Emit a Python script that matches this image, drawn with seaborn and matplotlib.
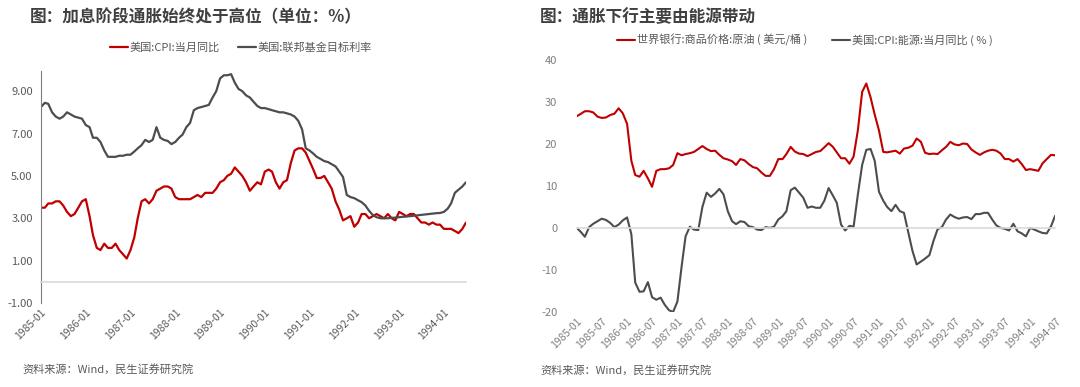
"""
通胀与利率、能源对比图
"""
import matplotlib
matplotlib.use('Agg')
import matplotlib.pyplot as plt
import matplotlib.dates as mdates
import seaborn as sns
import pandas as pd

sns.set_style("white")
plt.rcParams['font.family'] = ['Noto Sans CJK SC', 'DejaVu Sans']
plt.rcParams['axes.unicode_minus'] = False

# 月度日期 1985-01 ~ 1994-07
months = pd.date_range('1985-01-01', '1994-07-01', freq='MS')

# 美国:CPI:当月同比
cpi_yoy = [3.5, 3.5, 3.7, 3.7, 3.8, 3.8, 3.6, 3.3, 3.1, 3.2, 3.5, 3.8,
           3.9, 3.1, 2.2, 1.6, 1.5, 1.8, 1.6, 1.6, 1.8, 1.5, 1.3, 1.1,
           1.5, 2.1, 3.0, 3.8, 3.9, 3.7, 3.9, 4.3, 4.4, 4.5, 4.5, 4.4,
           4.0, 3.9, 3.9, 3.9, 3.9, 4.0, 4.1, 4.0, 4.2, 4.2, 4.2, 4.4,
           4.7, 4.8, 5.0, 5.1, 5.4, 5.2, 5.0, 4.7, 4.3, 4.5, 4.7, 4.6,
           5.2, 5.3, 5.2, 4.7, 4.4, 4.7, 4.8, 5.6, 6.2, 6.3, 6.3, 6.1,
           5.7, 5.3, 4.9, 4.9, 5.0, 4.7, 4.4, 3.8, 3.4, 2.9, 3.0, 3.1,
           2.6, 2.8, 3.2, 3.2, 3.0, 3.1, 3.2, 3.1, 3.0, 3.2, 3.0, 2.9,
           3.3, 3.2, 3.1, 3.2, 3.2, 3.0, 2.8, 2.8, 2.7, 2.8, 2.7, 2.7,
           2.5, 2.5, 2.5, 2.4, 2.3, 2.5, 2.8]

# 美国:联邦基金目标利率
fed_rate = [8.25, 8.45, 8.4, 8.0, 7.8, 7.7, 7.8, 8.0, 7.9, 7.8, 7.75, 7.7,
            7.4, 7.3, 6.8, 6.8, 6.6, 6.2, 5.9, 5.9, 5.9, 5.95, 5.95, 6.0,
            6.0, 6.15, 6.3, 6.45, 6.7, 6.6, 6.7, 7.3, 6.8, 6.7, 6.65, 6.5,
            6.6, 6.8, 6.95, 7.3, 7.5, 8.1, 8.2, 8.25, 8.3, 8.35, 8.7, 9.0,
            9.6, 9.75, 9.75, 9.8, 9.4, 9.1, 9.0, 8.8, 8.7, 8.5, 8.3, 8.2,
            8.2, 8.15, 8.1, 8.05, 8.0, 8.0, 7.95, 7.9, 7.8, 7.6, 7.2, 6.3,
            6.2, 6.05, 5.9, 5.8, 5.7, 5.65, 5.55, 5.45, 5.2, 4.95, 4.1, 4.0,
            3.95, 3.85, 3.76, 3.6, 3.35, 3.15, 3.05, 3.0, 3.0, 3.0, 3.02, 3.03,
            3.05, 3.07, 3.08, 3.1, 3.12, 3.14, 3.16, 3.18, 3.2, 3.22, 3.24, 3.25,
            3.3, 3.45, 3.7, 4.2, 4.35, 4.5, 4.7]

# 世界银行:商品价格:原油(美元/桶)
oil_price = [26.6, 27.2, 27.8, 27.8, 27.5, 26.5, 26.2, 26.3, 26.9, 27.2, 28.5, 27.3,
             24.8, 16.0, 12.6, 12.2, 13.6, 11.8, 9.8, 13.6, 14.0, 14.0, 14.2, 15.0,
             17.8, 17.3, 17.6, 17.8, 18.1, 18.8, 19.5, 18.8, 18.3, 18.4, 17.4, 16.6,
             16.3, 15.9, 15.0, 16.4, 16.1, 15.2, 14.5, 14.2, 13.2, 12.4, 12.4, 14.0,
             16.4, 16.4, 17.6, 19.3, 18.2, 17.7, 17.6, 17.1, 17.6, 18.1, 18.3, 19.2,
             20.2, 19.3, 18.0, 16.6, 16.6, 15.3, 17.0, 23.3, 32.4, 34.4, 31.1, 27.0,
             23.2, 18.1, 18.0, 18.2, 18.4, 17.7, 18.9, 19.1, 19.6, 21.3, 20.5, 17.9,
             17.6, 17.7, 17.6, 18.5, 19.3, 20.5, 19.9, 19.7, 20.1, 20.0, 18.7, 18.0,
             17.4, 18.0, 18.4, 18.6, 18.4, 17.7, 16.4, 16.4, 15.8, 16.4, 15.2, 13.8,
             14.0, 13.8, 13.6, 15.4, 16.4, 17.4, 17.3]

# 美国:CPI:能源:当月同比(%)
energy_yoy = [0.0, -1.0, -2.1, 0.2, 1.0, 1.6, 2.2, 1.9, 1.2, 0.2, 0.8, 1.8,
              2.5, -1.5, -13.0, -15.2, -15.1, -12.9, -16.5, -17.1, -16.6, -18.3, -19.6, -20.0,
              -17.5, -9.0, -2.0, 0.3, -0.4, -0.5, 5.0, 8.4, 7.4, 8.2, 9.3, 8.0,
              4.0, 1.6, 0.9, 1.6, 1.4, 0.4, 0.2, -0.4, -0.5, 0.2, 0.0, 0.3,
              2.0, 2.8, 4.0, 9.0, 9.6, 8.4, 7.2, 4.8, 5.1, 4.8, 4.8, 6.5,
              9.5, 7.7, 6.0, 0.8, -0.6, 0.5, 0.3, 8.0, 15.0, 18.6, 18.8, 16.0,
              8.6, 6.5, 5.0, 4.0, 5.5, 4.0, 3.6, -1.0, -5.5, -8.7, -8.0, -7.3,
              -6.5, -3.0, -0.3, 0.2, 2.0, 3.2, 2.6, 2.2, 2.5, 2.6, 2.1, 3.3,
              3.3, 3.6, 3.6, 2.0, 0.6, 0.0, -0.2, -0.6, 1.0, -0.8, -1.3, -2.0,
              0.0, -0.4, -0.8, -1.2, -1.3, 0.4, 2.9]

left_yticks = [-1, 1, 3, 5, 7, 9]
right_yticks = [-20, -10, 0, 10, 20, 30, 40]

RED = '#C00000'
GRAY = '#4D4D4D'
TXT = '#595959'


def style_axis(ax, xticks, label_color):
    """Нулевая линия с засечками, подписи дат снизу."""
    for s in ['top', 'right']:
        ax.spines[s].set_visible(False)
    ax.spines['bottom'].set_position(('data', 0))
    ax.spines['bottom'].set_color('#D9D9D9')
    ax.spines['bottom'].set_linewidth(1.2)
    ax.set_xticks(xticks)
    ax.tick_params(axis='x', direction='out', length=3, color='#D9D9D9', labelbottom=False)
    ax.tick_params(axis='y', length=0, labelsize=8, labelcolor=label_color, pad=6)
    ax.set_xlim(months[0], months[-1])
    ax.set_xlabel('')
    ax.set_ylabel('')

    sec = ax.secondary_xaxis('bottom')
    sec.set_xticks(mdates.date2num(xticks))
    sec.xaxis.set_major_formatter(mdates.DateFormatter('%Y-%m'))
    sec.spines['bottom'].set_visible(False)
    sec.tick_params(length=0, labelsize=7.5, labelcolor=label_color, pad=3)
    for lbl in sec.get_xticklabels():
        lbl.set_rotation(45)
        lbl.set_ha('right')
        lbl.set_rotation_mode('anchor')


fig = plt.figure(figsize=(10.8, 3.87), dpi=100)

# --- левый график ---
ax1 = fig.add_axes([0.038, 0.217, 0.3935, 0.5995])
sns.lineplot(x=months, y=cpi_yoy, ax=ax1, color=RED, linewidth=1.6, label='美国:CPI:当月同比')
sns.lineplot(x=months, y=fed_rate, ax=ax1, color=GRAY, linewidth=1.6, label='美国:联邦基金目标利率')
ax1.set_ylim(-1, 9.95)
ax1.set_yticks(left_yticks)
ax1.set_yticklabels([f'{v:.2f}' for v in left_yticks])
ax1.spines['left'].set_color('#7F7F7F')
style_axis(ax1, pd.date_range('1985-01-01', '1994-01-01', freq='YS'), TXT)
ax1.legend(loc='center', bbox_to_anchor=(241 / 1080, 1 - 48 / 387), bbox_transform=fig.transFigure,
           ncol=2, frameon=False, fontsize=8, handlelength=1.6, handletextpad=0.2,
           columnspacing=1.6, labelcolor=TXT)

# --- правый график ---
ax2 = fig.add_axes([0.534, 0.194, 0.443, 0.651])
sns.lineplot(x=months, y=oil_price, ax=ax2, color=RED, linewidth=1.5, label='世界银行:商品价格:原油 ( 美元/桶 )')
sns.lineplot(x=months, y=energy_yoy, ax=ax2, color=GRAY, linewidth=1.5, label='美国:CPI:能源:当月同比 ( % )')
ax2.set_ylim(-20, 40)
ax2.set_yticks(right_yticks)
ax2.spines['left'].set_visible(False)
style_axis(ax2, pd.date_range('1985-01-01', '1994-07-01', freq='6MS'), '#7F7F7F')
ax2.tick_params(axis='y', pad=14)
ax2.legend(loc='center', bbox_to_anchor=(805 / 1080, 1 - 40 / 387), bbox_transform=fig.transFigure,
           ncol=2, frameon=False, fontsize=8, handlelength=1.6, handletextpad=0.2,
           columnspacing=2.2, labelcolor=TXT)

# --- заголовки и источники ---
fig.text(30 / 1080, 1 - 17 / 387, '图：加息阶段通胀始终处于高位（单位：%）', fontsize=12,
         fontweight='bold', color='#404040', va='center')
fig.text(540 / 1080, 1 - 17 / 387, '图：通胀下行主要由能源带动', fontsize=12,
         fontweight='bold', color='#404040', va='center')
fig.text(22 / 1080, 1 - 369 / 387, '资料来源：Wind，民生证券研究院', fontsize=8, color=TXT, va='center')
fig.text(540 / 1080, 1 - 370 / 387, '资料来源：Wind，民生证券研究院', fontsize=8, color=TXT, va='center')

fig.savefig('out.png', dpi=100)
plt.close(fig)
